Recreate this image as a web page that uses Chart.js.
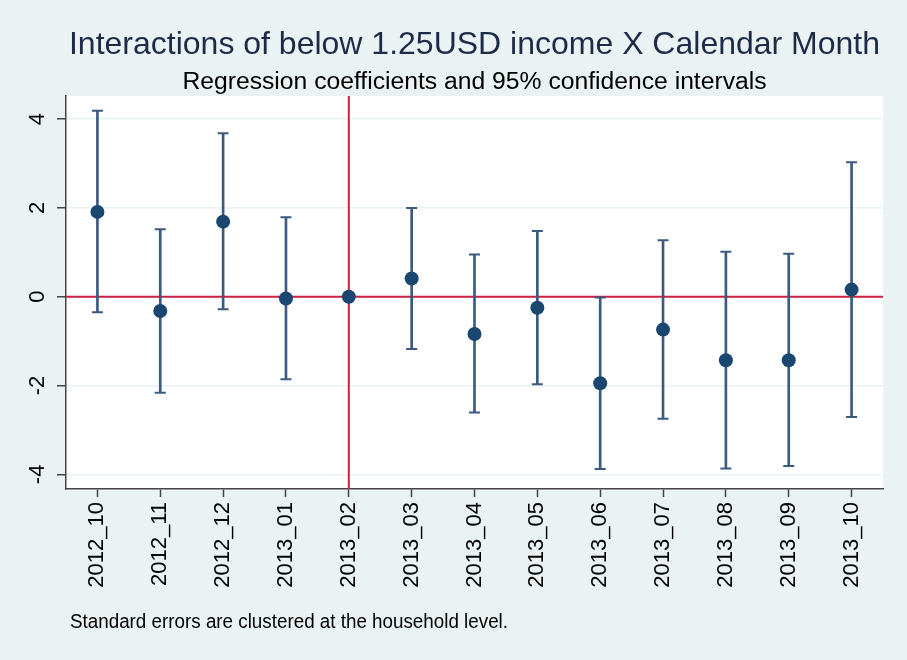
<!DOCTYPE html>
<html>
<head>
<meta charset="utf-8">
<script src="https://cdn.jsdelivr.net/npm/chart.js@4.4.1/dist/chart.umd.min.js"></script>
<style>
  html, body { margin: 0; padding: 0; background: #eaf2f3; }
  #wrap { width: 907px; height: 660px; position: relative; }
</style>
</head>
<body>
<div id="wrap"><canvas id="c" width="907" height="660"></canvas></div>
<script>
// ---- data ----
const months = ["2012_10","2012_11","2012_12","2013_01","2013_02","2013_03","2013_04","2013_05","2013_06","2013_07","2013_08","2013_09","2013_10"];
const coef   = [1.91, -0.32, 1.69, -0.04, 0.00, 0.41, -0.84, -0.25, -1.95, -0.74, -1.43, -1.43, 0.16];
const ciLow  = [-0.35, -2.16, -0.28, -1.86, null, -1.18, -2.61, -1.97, -3.88, -2.75, -3.87, -3.81, -2.71];
const ciHigh = [4.19, 1.52, 3.68, 1.79, null, 2.00, 0.95, 1.48, -0.02, 1.27, 1.01, 0.97, 3.03];
const yTicks = [-4, -2, 0, 2, 4];
const refMonth = "2013_02";
const refValue = 0;
const titleText = "Interactions of below 1.25USD income X Calendar Month";
const subtitleText = "Regression coefficients and 95% confidence intervals";
const noteText = "Standard errors are clustered at the household level.";

const FONT = "'Liberation Sans', Arial, sans-serif";
const navy = "#1a476f";
const whisker = "#3a5a80";
const red = "#cc1f41";

const ranges = ciLow.map((lo, i) => (lo === null || ciHigh[i] === null) ? null : [lo, ciHigh[i]]);

const bgPlugin = {
  id: 'bg',
  beforeDraw(chart) {
    const {ctx, chartArea: a} = chart;
    ctx.save();
    ctx.fillStyle = '#eaf2f3';
    ctx.fillRect(0, 0, chart.width, chart.height);
    ctx.fillStyle = '#ffffff';
    ctx.fillRect(a.left, a.top, a.right - a.left, a.bottom - a.top);
    ctx.restore();
  },
  beforeDatasetsDraw(chart) {
    const {ctx, chartArea: a, scales} = chart;
    const y0 = scales.y.getPixelForValue(refValue);
    const xr = scales.x.getPixelForValue(months.indexOf(refMonth));
    ctx.save();
    ctx.strokeStyle = red;
    ctx.lineWidth = 2;
    ctx.beginPath();
    ctx.moveTo(a.left, y0); ctx.lineTo(a.right, y0);
    ctx.moveTo(xr, a.top); ctx.lineTo(xr, a.bottom);
    ctx.stroke();
    ctx.restore();
  },
  afterDraw(chart) {
    const {ctx, chartArea: a} = chart;
    const cx = (a.left + a.right) / 2;
    ctx.save();
    ctx.textBaseline = 'alphabetic';
    ctx.textAlign = 'center';
    ctx.fillStyle = '#1e2b48';
    ctx.font = "32px " + FONT;
    ctx.fillText(titleText, cx, 53.5);
    ctx.fillStyle = '#000';
    ctx.font = "24.7px " + FONT;
    ctx.fillText(subtitleText, cx, 88.5);
    ctx.restore();

    ctx.save();
    ctx.fillStyle = '#000';
    ctx.font = "20px " + FONT;
    ctx.textBaseline = 'middle';
    ctx.textAlign = 'left';
    const w = ctx.measureText(noteText).width;
    const sx = 438 / w;
    ctx.translate(70, 622);
    ctx.scale(sx, 1);
    ctx.fillText(noteText, 0, 0);
    ctx.restore();
  }
};

new Chart(document.getElementById('c'), {
  type: 'bar',
  data: {
    labels: months,
    datasets: [
      {
        type: 'line', label: 'coef', data: coef, showLine: false,
        pointRadius: 7, pointHoverRadius: 7,
        pointBackgroundColor: navy, pointBorderColor: navy, pointBorderWidth: 0,
        order: 0
      },
      {
        type: 'line', label: 'upper', data: ciHigh, showLine: false,
        pointStyle: 'line', pointRadius: 5.5, pointHoverRadius: 5.5,
        pointBorderColor: whisker, pointBorderWidth: 2,
        order: 1
      },
      {
        type: 'line', label: 'lower', data: ciLow, showLine: false,
        pointStyle: 'line', pointRadius: 5.5, pointHoverRadius: 5.5,
        pointBorderColor: whisker, pointBorderWidth: 2,
        order: 1
      },
      {
        type: 'bar', label: 'ci', data: ranges,
        backgroundColor: whisker, borderWidth: 0, barThickness: 2,
        order: 2
      }
    ]
  },
  options: {
    responsive: false,
    animation: false,
    devicePixelRatio: 1,
    layout: { padding: { left: 0, right: 24, top: 96, bottom: 0 } },
    plugins: {
      legend: { display: false },
      tooltip: { enabled: false },
      title: { display: false },
      subtitle: { display: false }
    },
    scales: {
      x: {
        type: 'category',
        offset: true,
        grid: { offset: false, drawOnChartArea: false, drawTicks: true, tickLength: 8, tickColor: '#444', tickWidth: 1.5 },
        border: { display: true, color: '#444', width: 1.5 },
        ticks: {
          minRotation: 90, maxRotation: 90, autoSkip: false, padding: 5,
          color: '#000', font: { family: FONT, size: 22 }
        },
        afterFit(scale) { scale.height = 171; }
      },
      y: {
        type: 'linear',
        min: -4.33, max: 4.52,
        afterBuildTicks(scale) { scale.ticks = yTicks.map(v => ({ value: v })); },
        grid: { color: '#eaf2f3', lineWidth: 1.5, drawTicks: true, tickLength: 9, tickColor: '#444', tickWidth: 1.5 },
        border: { display: true, color: '#444', width: 1.5 },
        ticks: {
          minRotation: 90, maxRotation: 90, crossAlign: 'center', padding: 9,
          color: '#000', font: { family: FONT, size: 22 },
          callback: (v) => String(v)
        },
        afterFit(scale) { scale.width = 66; }
      }
    }
  },
  plugins: [bgPlugin]
});
</script>
</body>
</html>
